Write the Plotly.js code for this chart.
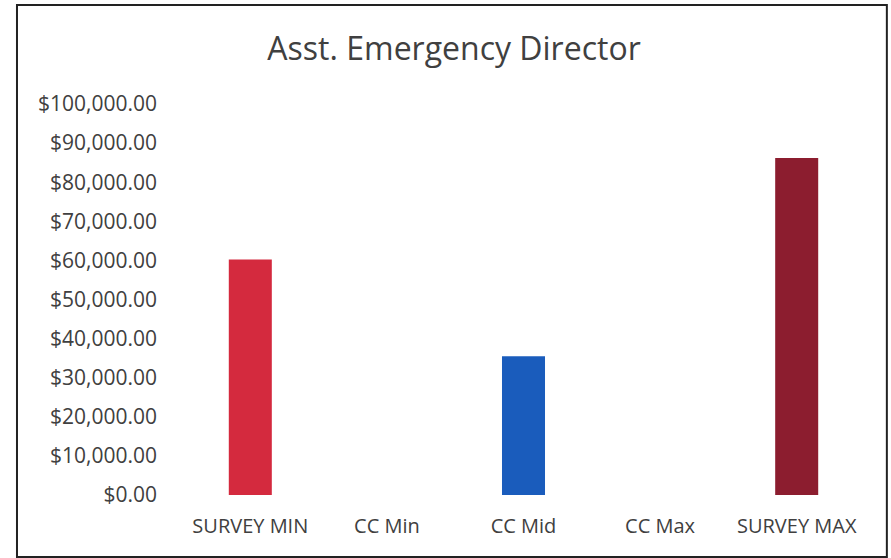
<!DOCTYPE html>
<html>
<head>
<meta charset="utf-8">
<script src="https://cdn.plot.ly/plotly-3.0.1.min.js"></script>
<style>
html,body{margin:0;padding:0;background:#fff;}
#chart{width:891px;height:558px;}
</style>
</head>
<body>
<div id="chart"></div>
<script>
const categories = ["SURVEY MIN", "CC Min", "CC Mid", "CC Max", "SURVEY MAX"];
const salaries = [60200, 0, 35500, 0, 86200];
const barColors = ["#d42a3e", "#d42a3e", "#1a5cbc", "#8c1d2f", "#8c1d2f"];
const yTicks = [0, 10000, 20000, 30000, 40000, 50000, 60000, 70000, 80000, 90000, 100000];

const trace = {
  type: "bar",
  x: categories,
  y: salaries,
  width: 0.315,
  marker: {color: barColors},
  hoverinfo: "x+y"
};

const layout = {
  width: 891,
  height: 558,
  paper_bgcolor: "#ffffff",
  plot_bgcolor: "#ffffff",
  margin: {l: 182, r: 26, t: 104, b: 63},
  showlegend: false,
  font: {family: "Open Sans, Noto Sans, sans-serif", color: "#404040"},
  title: {
    text: "Asst. Emergency Director",
    font: {size: 32, color: "#404040", family: "Open Sans, Noto Sans, sans-serif"},
    x: 0.5096, xref: "container", xanchor: "center",
    y: 0.912, yref: "container", yanchor: "middle"
  },
  xaxis: {
    type: "category",
    showgrid: false,
    zeroline: false,
    showline: false,
    ticks: "",
    ticklabelstandoff: 17,
    tickfont: {size: 20, color: "#404040"}
  },
  yaxis: {
    range: [0, 100000],
    tickvals: yTicks,
    tickformat: "$,.2f",
    showgrid: false,
    zeroline: false,
    showline: false,
    ticks: "",
    ticklabelstandoff: 24,
    tickfont: {size: 21, color: "#404040"}
  },
  shapes: [{
    type: "rect", xref: "paper", yref: "paper",
    x0: -0.2416, x1: 1.032, y0: -0.1586, y1: 1.253,
    line: {color: "#222222", width: 2}, fillcolor: "rgba(0,0,0,0)", layer: "below"
  }]
};

Plotly.newPlot("chart", [trace], layout, {displayModeBar: false, staticPlot: true});
</script>
</body>
</html>
